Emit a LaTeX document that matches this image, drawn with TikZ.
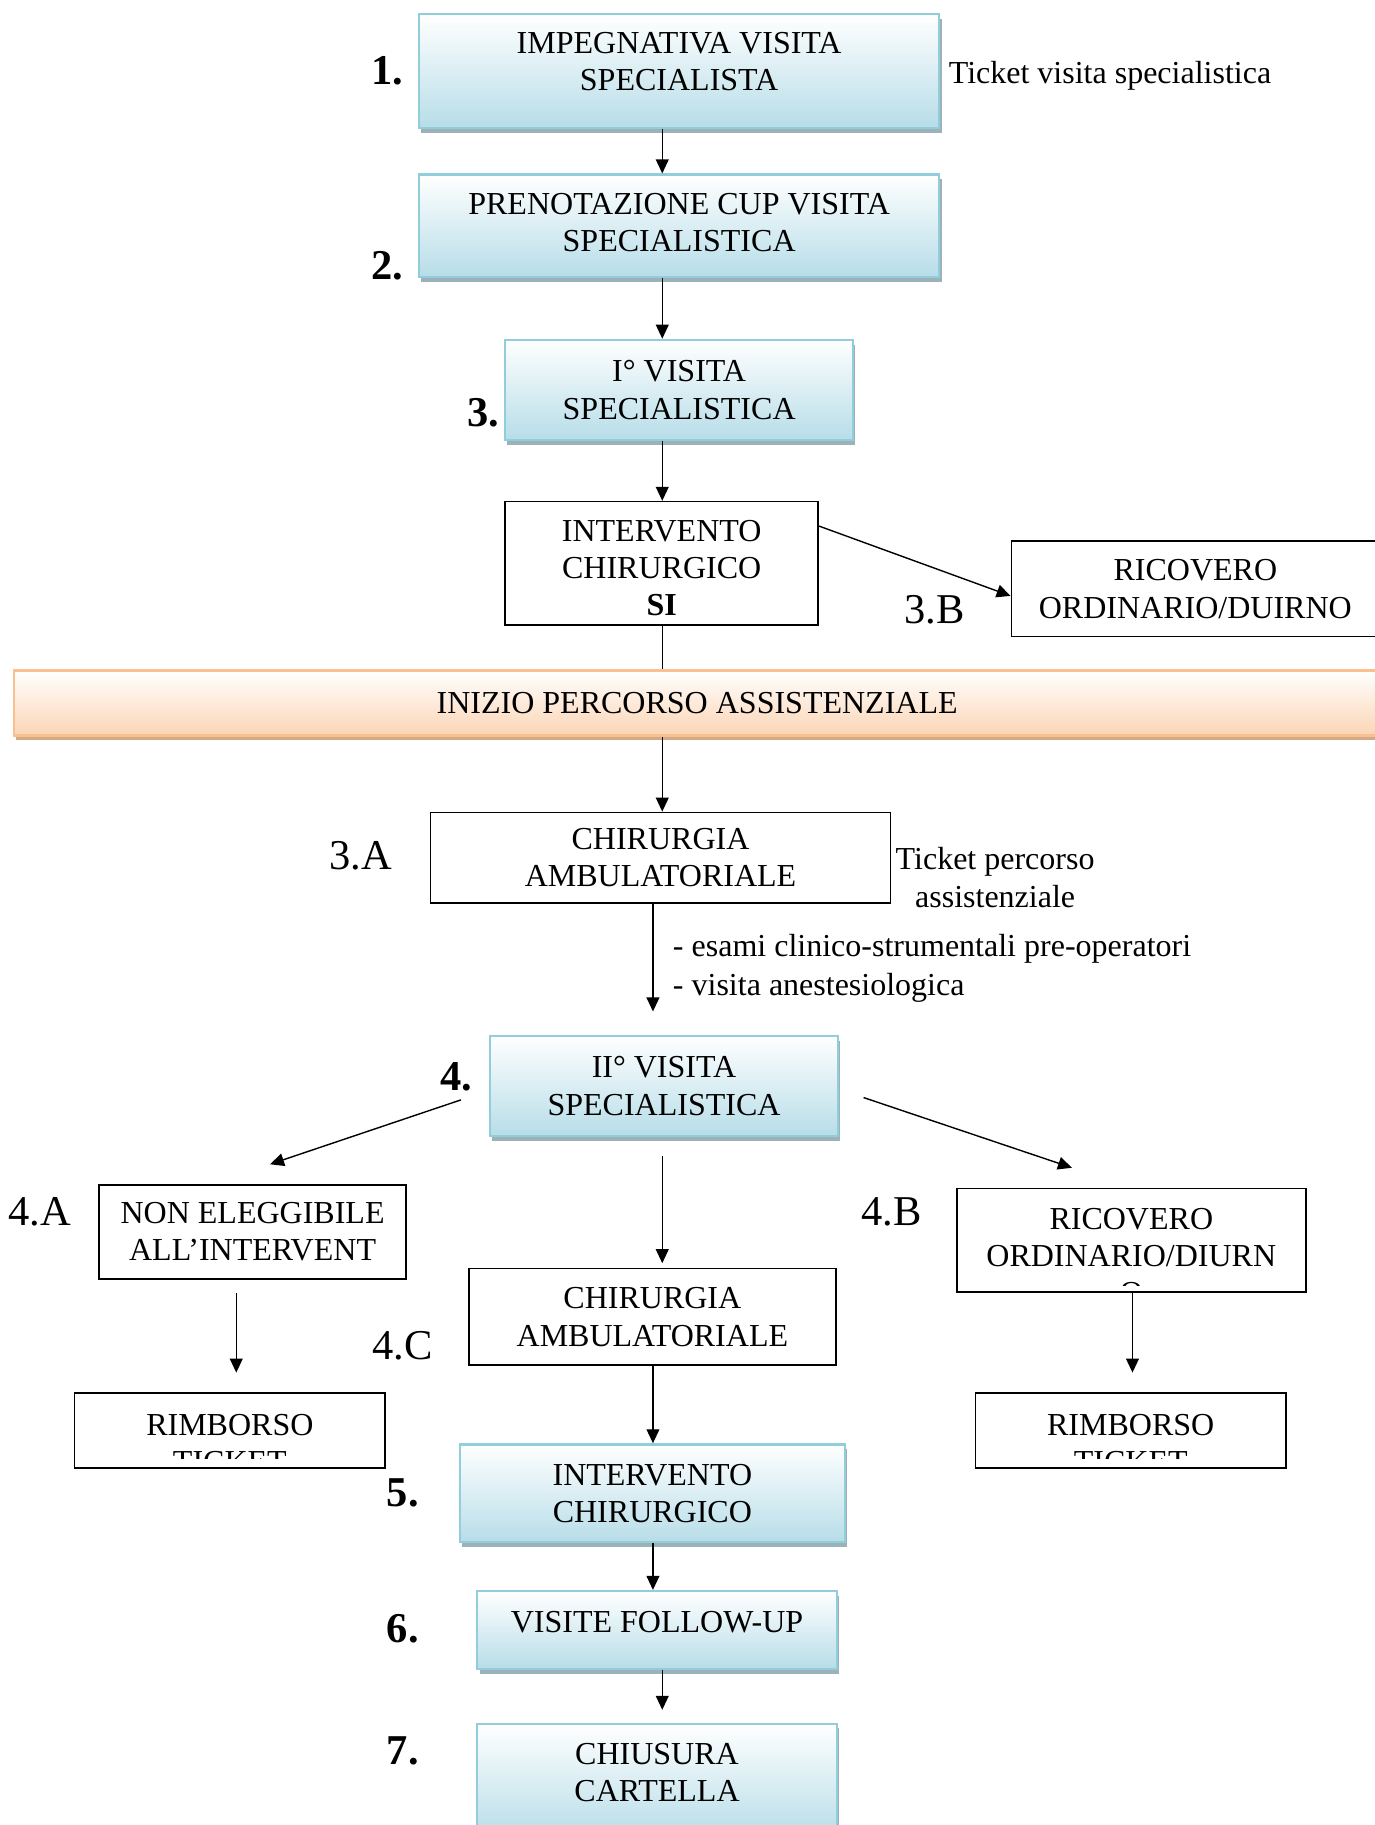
\documentclass[tikz,border=0pt]{standalone}
\usepackage{fontspec}
\setmainfont{Liberation Serif}
\usetikzlibrary{arrows.meta,shadows}
\newcommand{\flowfont}{\fontsize{27.5}{32}\selectfont}
\newcommand{\labfont}{\fontsize{36.5}{40}\selectfont}
\definecolor{boxblue}{HTML}{92CDDC}
\definecolor{fillblue}{HTML}{B7DDE8}
\definecolor{shadeblue}{HTML}{9DB2B8}
\definecolor{boxorange}{HTML}{FAC090}
\definecolor{fillorange}{HTML}{FBD5B5}
\definecolor{shadeorange}{HTML}{D4A987}
\tikzset{
    %Define standard arrow tip
    >={Triangle[length=12pt,width=11pt]},
    %Define style for boxes
    stepbox/.style={
           rectangle,
           draw=boxblue, line width=2pt,
           top color=white, bottom color=fillblue,
           drop shadow={shadow xshift=2pt, shadow yshift=-4pt, fill=shadeblue, opacity=1},
           inner sep=0pt,
           font=\flowfont,
           align=center},
    banner/.style={
           rectangle,
           draw=boxorange, line width=2pt,
           top color=white, bottom color=fillorange,
           drop shadow={shadow xshift=2pt, shadow yshift=-4pt, fill=shadeorange, opacity=1},
           inner sep=0pt,
           font=\flowfont,
           align=center},
    plainbox/.style={
           rectangle,
           draw=black, line width=1.4pt,
           fill=white,
           inner sep=0pt,
           font=\flowfont,
           align=center},
    note/.style={
           inner sep=0pt,
           font=\flowfont},
    stepnum/.style={
           inner sep=0pt,
           font=\labfont\bfseries},
    sublabel/.style={
           inner sep=0pt,
           font=\labfont},
    % Define arrow style
    conn/.style={
           ->,
           line width=1.2pt},
    link/.style={
           line width=1.2pt}
}
\begin{document}
\begin{tikzpicture}[x=1pt,y=-1pt]
\path[use as bounding box, fill=white] (0,0) rectangle (1181,1568);
\coordinate (axis) at (569,0);
\coordinate (axisB) at (561,0);
\coordinate (axisL) at (203,0);
\coordinate (axisR) at (973,0);
% main steps
\node[stepbox, minimum width=447pt, minimum height=98pt, text depth=16pt] (impegn) at (583.5,61) {IMPEGNATIVA VISITA\\SPECIALISTA};
\node[stepbox, minimum width=447pt, minimum height=88pt, text depth=6pt] (prenot) at (583.5,194) {PRENOTAZIONE CUP VISITA\\SPECIALISTICA};
\node[stepbox, minimum width=299pt, minimum height=86pt] (visit1) at (583.5,335) {I° VISITA\\SPECIALISTICA};
\node[plainbox, minimum width=269pt, minimum height=106pt, text height=90pt] (intA) at (568.5,484) {INTERVENTO\\CHIRURGICO\\\textbf{SI}};
\node[plainbox, minimum width=316pt, minimum height=82pt] (ricA) at (1027,506) {RICOVERO\\ORDINARIO/DUIRNO};
\node[banner, minimum width=1174pt, minimum height=56pt] (percorso) at (599,604) {INIZIO PERCORSO ASSISTENZIALE};
\node[plainbox, minimum width=395pt, minimum height=78pt] (ambA) at (567.5,737) {CHIRURGIA\\AMBULATORIALE};
\node[stepbox, minimum width=299pt, minimum height=86pt] (visit2) at (570.5,933) {II° VISITA\\SPECIALISTICA};
\node[plainbox, minimum width=264pt, minimum height=81pt] (nonel) at (217,1058.5) {NON ELEGGIBILE\\ALL’INTERVENT};
\node[plainbox, minimum width=315pt, minimum height=83pt] (ambC) at (560.5,1131.5) {CHIRURGIA\\AMBULATORIALE};
\node[plainbox, minimum width=300pt, minimum height=89pt] (ricB) at (972,1065.5) {};
\begin{scope}
  \clip (ricB.north west) rectangle ([yshift=6pt]ricB.south east);
  \node[note, align=center] (ricBtext) at ([yshift=-13.5pt]ricB.center) {RICOVERO\\ORDINARIO/DIURN\\O};
\end{scope}
\node[plainbox, minimum width=267pt, minimum height=64pt] (rimbA) at (197.5,1229) {};
\begin{scope}
  \clip (rimbA.north west) rectangle ([yshift=9pt]rimbA.south east);
  \node[note, align=center] (rimbAtext) at ([yshift=-11pt]rimbA.center) {RIMBORSO\\TICKET};
\end{scope}
\node[plainbox, minimum width=267pt, minimum height=64pt] (rimbB) at (971.5,1229) {};
\begin{scope}
  \clip (rimbB.north west) rectangle ([yshift=9pt]rimbB.south east);
  \node[note, align=center] (rimbBtext) at ([yshift=-11pt]rimbB.center) {RIMBORSO\\TICKET};
\end{scope}
\node[stepbox, minimum width=331pt, minimum height=84pt] (interv) at (560.5,1283) {INTERVENTO\\CHIRURGICO};
\node[stepbox, minimum width=309pt, minimum height=67pt, text depth=14pt] (follow) at (564.5,1400.5) {VISITE FOLLOW-UP};
\node[stepbox, minimum width=309pt, minimum height=98pt, text depth=14pt] (chius) at (564.5,1530) {CHIUSURA\\CARTELLA};
% labels
\node[stepnum] (lab1) at (333,61) {1.};
\node[stepnum] (lab2) at (333,228) {2.};
\node[stepnum] (lab3) at (415,355) {3.};
\node[stepnum] (lab4) at (392,925) {4.};
\node[stepnum] (lab5) at (346,1283) {5.};
\node[stepnum] (lab6) at (346,1399) {6.};
\node[stepnum] (lab7) at (346,1504) {7.};
\node[sublabel] (lab3b) at (803,524) {3.B};
\node[sublabel] (lab3a) at (310,735) {3.A};
\node[sublabel] (lab4a) at (34,1041) {4.A};
\node[sublabel] (lab4b) at (766,1041) {4.B};
\node[sublabel] (lab4c) at (346,1156) {4.C};
\node[note, anchor=west] (ticket1) at (815,65) {Ticket visita specialistica};
\node[note, align=center] (ticket2) at (855,754) {Ticket percorso\\assistenziale};
\node[note, align=left, anchor=west] (esami) at (578,832) {- esami clinico-strumentali pre-operatori\\[2pt]- visita anestesiologica};
% connectors
\draw[conn] (impegn.south -| axis) -- (prenot.north -| axis);
\draw[conn] (prenot.south -| axis) -- (visit1.north -| axis);
\draw[conn] (visit1.south -| axis) -- (intA.north -| axis);
\draw[conn] ([yshift=32pt]intA.east) -- ([yshift=-6pt]ricA.west);
\draw[link] (intA.south -| axis) -- (percorso.north -| axis);
\draw[conn] (percorso.south -| axis) -- (ambA.north -| axis);
\draw[conn, shorten >=20pt] (ambA.south -| axisB) -- (visit2.north -| axisB);
\draw[conn] ([xshift=-24pt,yshift=-12pt]visit2.west) -- ([xshift=15pt,yshift=17pt]nonel.north);
\draw[conn] ([xshift=21pt,yshift=-10pt]visit2.east) -- ([xshift=-51pt,yshift=17pt]ricB.north);
\draw[conn, shorten <=16pt, shorten >=4pt] (visit2.south -| axis) -- (ambC.north -| axis);
\draw[conn, shorten <=11pt, shorten >=17pt] (nonel.south -| axisL) -- (rimbA.north -| axisL);
\draw[conn, shorten >=17pt] (ricB.south -| axisR) -- (rimbB.north -| axisR);
\draw[conn] (ambC.south -| axisB) -- (interv.north -| axisB);
\draw[conn] (interv.south -| axisB) -- (follow.north -| axisB);
\draw[conn, shorten >=11pt] (follow.south -| axis) -- (chius.north -| axis);
\end{tikzpicture}
\end{document}
